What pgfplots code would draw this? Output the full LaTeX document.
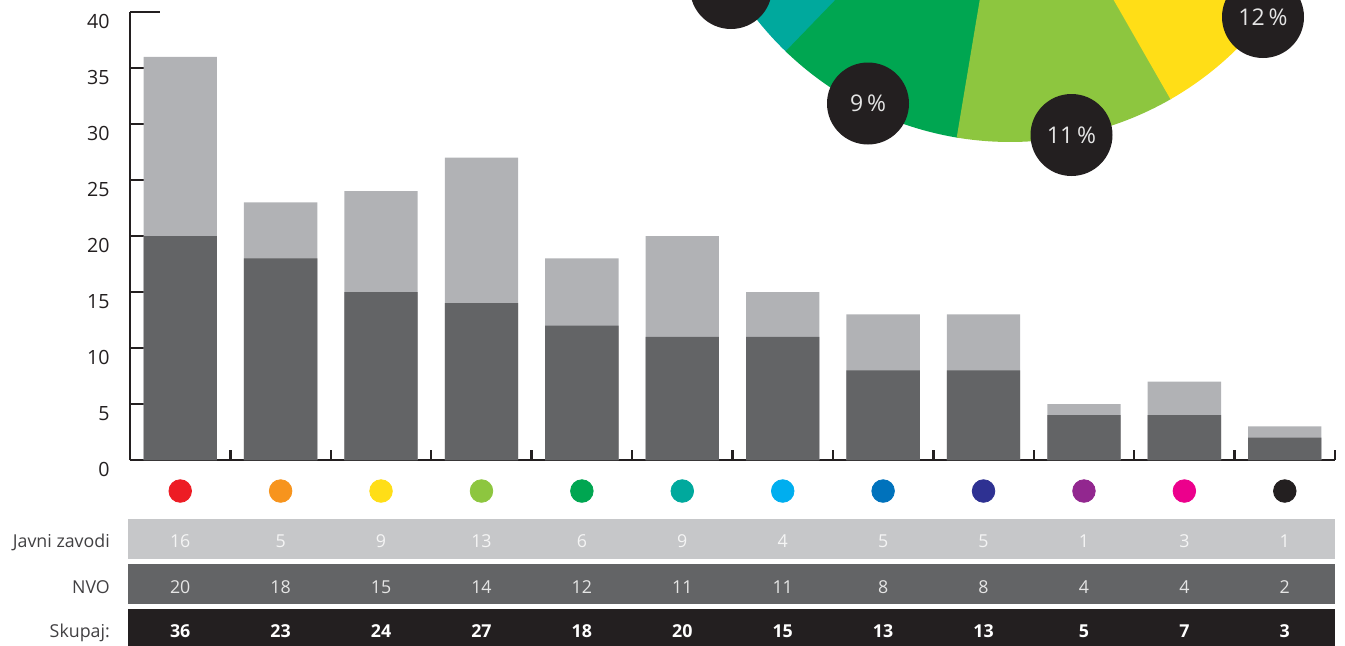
\documentclass[border=0pt]{standalone}
\usepackage{pgfplots}
\usepackage{pgfplotstable}
\pgfplotsset{compat=1.18}
\usepackage{fontspec}
\setmainfont{Open Sans}

\definecolor{barDark}{HTML}{636466}
\definecolor{barLight}{HTML}{B1B2B5}
\definecolor{rowOne}{HTML}{C6C7C9}
\definecolor{rowTwo}{HTML}{636466}
\definecolor{ink}{HTML}{231F20}
\definecolor{labelGray}{HTML}{414042}
\definecolor{cRed}{HTML}{ED1C24}
\definecolor{cOrange}{HTML}{F7941D}
\definecolor{cYellow}{HTML}{FFDE17}
\definecolor{cLime}{HTML}{8DC63F}
\definecolor{cGreen}{HTML}{00A651}
\definecolor{cTeal}{HTML}{00A99D}
\definecolor{cCyan}{HTML}{00AEEF}
\definecolor{cBlue}{HTML}{0072BC}
\definecolor{cNavy}{HTML}{2E3192}
\definecolor{cPurple}{HTML}{92278F}
\definecolor{cMagenta}{HTML}{EC008C}

\newcommand\tickfont{\fontsize{9.8pt}{11pt}\selectfont}
\newcommand\rowfont{\fontsize{8.9pt}{10pt}\selectfont}
\newcommand\piefont{\fontsize{11.5pt}{13pt}\selectfont}

% javni = Javni zavodi, nvo = NVO, total = Skupaj
\pgfplotstableread{
x javni nvo total
0  16 20 36
1  5  18 23
2  9  15 24
3  13 14 27
4  6  12 18
5  9  11 20
6  4  11 15
7  5  8  13
8  5  8  13
9  1  4  5
10 3  4  7
11 1  2  3
}\data

\begin{document}
\begin{tikzpicture}
\useasboundingbox (0,0) rectangle (672.5pt,322.5pt);

% fragment of the pie chart cut by the top edge
\begin{scope}[x=0.5pt,y=0.5pt]
  \clip (0,0) rectangle (1345,645);
  \begin{scope}[shift={(1010,826)}]
    \fill[cTeal]   (0,0) -- (190:323) arc[start angle=190,end angle=226.5,radius=323] -- cycle;
    \fill[cGreen]  (0,0) -- (226:323) arc[start angle=226,end angle=260.8,radius=323] -- cycle;
    \fill[cLime]   (0,0) -- (260.5:323) arc[start angle=260.5,end angle=300,radius=323] -- cycle;
    \fill[cYellow] (0,0) -- (299.8:323) arc[start angle=299.8,end angle=343,radius=323] -- cycle;
  \end{scope}
  \fill[ink] (731,657) circle[radius=41];
  \fill[ink] (868,541.5) circle[radius=41];
  \fill[ink] (1071.5,510) circle[radius=41];
  \fill[ink] (1263,628) circle[radius=41];
  \node[text=white!90!black, font=\piefont] at (868,541.5) {9\,\%};
  \node[text=white!90!black, font=\piefont] at (1071.5,510) {11\,\%};
  \node[text=white!90!black, font=\piefont] at (1263,628) {12\,\%};
\end{scope}

\begin{axis}[
  at={(65pt,92.5pt)}, anchor=south west,
  scale only axis, width=602.5pt, height=224pt,
  xmin=-0.5, xmax=11.5, ymin=0, ymax=40,
  clip=false,
  axis x line=bottom, axis y line=left,
  axis line style={-, line width=1.2pt, ink},
  tick align=inside,
  ytick={0,5,...,40},
  xtick={0.5,1.5,...,11.5},
  xticklabels={},
  major tick length=15pt,
  xtick style={/pgfplots/major tick length=5pt, line width=1.2pt, ink},
  ytick style={line width=1.2pt, ink},
  yticklabel style={anchor=east, inner sep=0pt, xshift=-10pt, yshift=-4.6pt,
    font=\tickfont, text=ink},
  /pgf/number format/assume math mode=true,
]
  \addplot[ybar, bar width=0.73, bar shift=0pt, fill=barLight, draw=none]
    table[x=x, y=total] {\data};
  \addplot[ybar, bar width=0.73, bar shift=0pt, fill=barDark, draw=none]
    table[x=x, y=nvo] {\data};

  % colour key under the bars
  \addplot[only marks, mark=*, mark size=5.65pt, cRed]     coordinates {(0,-2.77)};
  \addplot[only marks, mark=*, mark size=5.65pt, cOrange]  coordinates {(1,-2.77)};
  \addplot[only marks, mark=*, mark size=5.65pt, cYellow]  coordinates {(2,-2.77)};
  \addplot[only marks, mark=*, mark size=5.65pt, cLime]    coordinates {(3,-2.77)};
  \addplot[only marks, mark=*, mark size=5.65pt, cGreen]   coordinates {(4,-2.77)};
  \addplot[only marks, mark=*, mark size=5.65pt, cTeal]    coordinates {(5,-2.77)};
  \addplot[only marks, mark=*, mark size=5.65pt, cCyan]    coordinates {(6,-2.77)};
  \addplot[only marks, mark=*, mark size=5.65pt, cBlue]    coordinates {(7,-2.77)};
  \addplot[only marks, mark=*, mark size=5.65pt, cNavy]    coordinates {(8,-2.77)};
  \addplot[only marks, mark=*, mark size=5.65pt, cPurple]  coordinates {(9,-2.77)};
  \addplot[only marks, mark=*, mark size=5.65pt, cMagenta] coordinates {(10,-2.77)};
  \addplot[only marks, mark=*, mark size=5.65pt, ink]      coordinates {(11,-2.77)};

  % table bands
  \fill[rowOne] (axis cs:-0.518,-5.268) rectangle (axis cs:11.5,-8.839);
  \fill[rowTwo] (axis cs:-0.518,-9.286) rectangle (axis cs:11.5,-12.857);
  \fill[ink]    (axis cs:-0.518,-13.304) rectangle (axis cs:11.5,-17.5);

  \node[anchor=base east, inner sep=0pt, text=labelGray, font=\rowfont] at (axis cs:-0.697,-7.77) {Javni zavodi};
  \node[anchor=base east, inner sep=0pt, text=labelGray, font=\rowfont] at (axis cs:-0.697,-11.875) {NVO};
  \node[anchor=base east, inner sep=0pt, text=labelGray, font=\rowfont] at (axis cs:-0.697,-15.85) {Skupaj:};

  \addplot[draw=none, mark=none, nodes near coords, point meta=explicit symbolic,
    nodes near coords align={anchor=base},
    every node near coord/.append style={anchor=base, inner sep=0pt, text=white!96!black, font=\rowfont}]
    table[x=x, y expr=-7.77, meta=javni] {\data};
  \addplot[draw=none, mark=none, nodes near coords, point meta=explicit symbolic,
    nodes near coords align={anchor=base},
    every node near coord/.append style={anchor=base, inner sep=0pt, text=white!90!black, font=\rowfont}]
    table[x=x, y expr=-11.875, meta=nvo] {\data};
  \addplot[draw=none, mark=none, nodes near coords, point meta=explicit symbolic,
    nodes near coords align={anchor=base},
    every node near coord/.append style={anchor=base, inner sep=0pt, text=white, font=\rowfont\bfseries}]
    table[x=x, y expr=-15.85, meta=total] {\data};
\end{axis}
\end{tikzpicture}
\end{document}
